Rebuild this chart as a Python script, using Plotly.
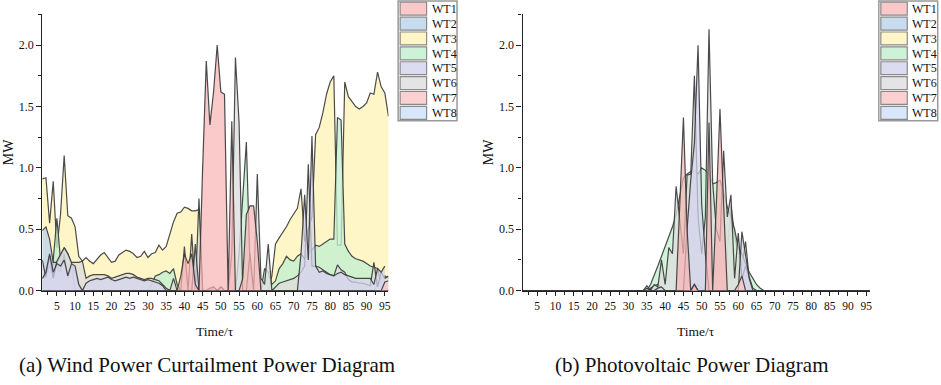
import plotly.graph_objects as go

W, H = 941, 385
T = list(range(1, 97))
NAMES = ["WT1", "WT2", "WT3", "WT4", "WT5", "WT6", "WT7", "WT8"]
X_TICKS = list(range(5, 96, 5))
Y_TICKS = [0.0, 0.5, 1.0, 1.5, 2.0]

def z(n):
    return [0.0] * n

# ---------------- Wind power curtailment (a) ----------------
WIND_WT1 = (z(37) + [0.0, 0.12, 0.30, 0.22, 0.30, 0.05, 0.0, 1.00, 1.87, 1.35, 1.62, 2.00,
                     1.62, 1.60, 0.0, 1.38, 0.0, 0.0, 0.10, 0.62, 0.69, 0.69, 0.40, 0.0] + z(35))
WIND_WT2 = [0.49, 0.52, 0.42, 0.23, 0.23, 0.28, 0.35, 0.30, 0.22, 0.15, 0.06, 0.0] + z(84)
WIND_WT3 = [0.91, 0.92, 0.55, 0.89, 0.35, 0.62, 1.10, 0.61, 0.59, 0.52, 0.28, 0.24,
            0.27, 0.24, 0.22, 0.26, 0.29, 0.31, 0.27, 0.23, 0.24, 0.29, 0.31, 0.33,
            0.32, 0.30, 0.27, 0.28, 0.32, 0.27, 0.30, 0.31, 0.37, 0.33, 0.36, 0.47,
            0.56, 0.63, 0.64, 0.68, 0.67, 0.65, 0.65, 0.66] + z(19) + [
            0.12, 0.38, 0.43, 0.47, 0.52, 0.58, 0.63, 0.67, 0.83, 0.40, 0.50, 0.60,
            1.27, 1.33, 1.45, 1.60, 1.70, 1.75, 0.37, 0.37, 1.70, 1.58, 1.54, 1.50,
            1.48, 1.50, 1.53, 1.61, 1.60, 1.78, 1.66, 1.61, 1.42]
WIND_WT4 = ([0.0, 0.0, 0.0, 0.25, 0.59, 0.25] + z(24) +
            [0.05, 0.12, 0.13, 0.15, 0.16, 0.14, 0.18, 0.05] + z(16) +
            [0.30, 0.75, 1.21, 0.20, 0.0, 0.0, 0.0, 0.18, 0.15, 0.05, 0.08, 0.18,
             0.22, 0.28, 0.25, 0.24, 0.28, 0.30, 0.26, 0.30, 0.33, 0.37, 0.36, 0.38,
             0.40, 0.42, 0.42, 1.41, 1.39, 0.38, 0.32, 0.28, 0.26, 0.25, 0.24, 0.22,
             0.20, 0.19, 0.18, 0.05, 0.0, 0.0])
WIND_WT5 = ([0.10, 0.15, 0.30, 0.15, 0.22, 0.20, 0.25, 0.12, 0.22, 0.20, 0.05, 0.0,
             0.06, 0.08, 0.09, 0.10, 0.09, 0.10, 0.11, 0.09, 0.08, 0.09, 0.10, 0.11,
             0.10, 0.11, 0.10, 0.09, 0.08, 0.09, 0.08, 0.07, 0.06, 0.04, 0.0] + z(7) +
            [0.38, 0.0, 0.0, 0.0, 0.02, 0.03, 0.0, 0.03] + z(21) +
            [0.30, 0.78, 0.25, 1.26, 0.20, 0.15, 0.16, 0.14, 0.13, 0.12, 0.14, 0.15,
             0.13, 0.12, 0.11, 0.10, 0.10, 0.10, 0.10, 0.10, 0.05, 0.18, 0.15, 0.20])
WIND_WT6 = [0.10, 0.12, 0.28, 0.10, 0.24, 0.30, 0.35, 0.30, 0.23, 0.23, 0.23, 0.24,
            0.10, 0.12, 0.13, 0.13, 0.13, 0.13, 0.12, 0.10, 0.11, 0.12, 0.13, 0.14,
            0.14, 0.13, 0.11, 0.10, 0.09, 0.10, 0.10, 0.09, 0.08, 0.05, 0.02, 0.0,
            0.10, 0.0, 0.0, 0.36, 0.0, 0.46, 0.0, 0.75, 0.0, 0.0, 0.0, 0.03,
            0.0, 0.03, 0.0, 0.0, 0.30, 1.90, 1.37, 0.0, 0.0, 0.30, 0.0, 0.95,
            0.10, 0.05, 0.38, 0.0, 0.03, 0.06, 0.07, 0.08, 0.09, 0.10, 0.12, 0.15,
            0.20, 1.03, 0.20, 0.20, 0.19, 0.17, 0.15, 0.13, 0.12, 0.21, 0.17, 0.15,
            0.09, 0.07, 0.07, 0.06, 0.06, 0.05, 0.04, 0.23, 0.03, 0.15, 0.10, 0.12]
WIND_WT7 = z(93) + [0.0, 0.07, 0.08]
WIND_WT8 = [0.25, 0.10, 0.20, 0.12, 0.20, 0.15, 0.30, 0.10, 0.20, 0.0] + z(82) + [0.05, 0.10, 0.12, 0.10]

# ---------------- Photovoltaic (b) ----------------
PV_WT1 = z(43) + [0.70, 1.41, 0.50, 0.0, 0.05, 0.0, 0.0, 0.0, 1.37, 0.0, 0.70, 1.48, 0.70, 0.0] + z(39)
PV_WT2 = z(47) + [0.02, 0.05, 0.02] + z(46)
PV_WT3 = z(56) + [0.30, 0.70, 0.45, 0.30, 0.20, 0.40, 0.10, 0.0] + z(32)
PV_WT4 = (z(35) + [0.05, 0.12, 0.20, 0.28, 0.36, 0.44, 0.52, 0.62, 0.78, 0.92, 0.95,
                   0.97, 0.98, 0.95, 1.00, 0.98, 0.95, 0.87, 0.88, 0.90, 0.80, 0.68, 0.60,
                   0.50, 0.35, 0.30, 0.22, 0.15, 0.10, 0.05, 0.02] + z(30))
PV_WT5 = (z(34) + [0.02, 0.0, 0.0, 0.02, 0.03, 0.0] + z(5) +
          [0.50, 0.90, 1.20, 2.00, 0.70, 0.30, 0.0] + z(8) + [0.48, 0.30, 0.10, 0.0] + z(31))
PV_WT6 = (z(33) + [0.0, 0.04, 0.0, 0.05, 0.03, 0.25, 0.05, 0.35, 0.30, 0.85, 0.60, 0.30,
                   0.94, 0.95, 1.75, 0.60, 0.30, 0.60, 2.13, 0.88, 0.50, 0.40, 1.14, 0.60,
                   0.78, 0.10, 0.47, 0.10, 0.20, 0.10, 0.02, 0.0] + z(31))
PV_WT7 = z(47) + [0.05, 0.0] + z(10) + [0.05, 0.12, 0.0] + z(34)
PV_WT8 = z(35) + [0.02, 0.04, 0.05, 0.02] + z(57)

WIND = [WIND_WT1, WIND_WT2, WIND_WT3, WIND_WT4, WIND_WT5, WIND_WT6, WIND_WT7, WIND_WT8]
PV = [PV_WT1, PV_WT2, PV_WT3, PV_WT4, PV_WT5, PV_WT6, PV_WT7, PV_WT8]

COLORS = ["rgb(250,200,200)", "rgb(200,220,240)", "rgb(255,246,200)", "rgb(205,242,215)",
          "rgb(220,220,240)", "rgb(228,228,228)", "rgb(252,208,208)", "rgb(215,230,248)"]
FILLS = ["rgba(248,180,180,0.72)", "rgba(185,210,238,0.75)", "rgba(255,244,190,0.85)",
         "rgba(195,240,208,0.78)", "rgba(212,212,238,0.72)", "rgba(222,222,222,0.78)",
         "rgba(250,195,195,0.72)", "rgba(205,224,248,0.65)"]
DRAW_ORDER = [2, 3, 1, 7, 5, 4, 6, 0]

FONT = "Times New Roman, Liberation Serif, serif"

def px(x):
    return x / W

def py(y):
    return 1 - y / H

fig = go.Figure()
for data, xa, ya in [(WIND, "x", "y"), (PV, "x2", "y2")]:
    for i in DRAW_ORDER:
        fig.add_trace(go.Scatter(
            x=T, y=data[i], name=NAMES[i], mode="lines", fill="tozeroy",
            fillcolor=FILLS[i], line=dict(color="rgba(55,55,55,0.9)", width=1.2),
            xaxis=xa, yaxis=ya, showlegend=False, hoverinfo="x+y+name"))

ydom = [py(296), py(14.75)]
xcommon = dict(range=[1, 96], tickmode="array", tickvals=X_TICKS, ticktext=[str(v) for v in X_TICKS],
               ticks="outside", ticklen=4, tickwidth=1, tickcolor="#222", showline=True,
               linecolor="#222", linewidth=1.2, showgrid=False, zeroline=False,
               tickfont=dict(family=FONT, size=11.5, color="#111"),
               minor=dict(tickmode="linear", tick0=2.5, dtick=5, ticks="outside", ticklen=3,
                          tickcolor="#222", showgrid=False))
ycommon = dict(range=[0, 2.25], tickmode="array", tickvals=Y_TICKS,
               ticktext=[f"{v:.1f}" for v in Y_TICKS],
               ticks="outside", ticklen=5, tickwidth=1, tickcolor="#222", showline=True,
               linecolor="#222", linewidth=1.2, showgrid=False, zeroline=False,
               tickfont=dict(family=FONT, size=12, color="#111"),
               minor=dict(tickmode="linear", tick0=0.25, dtick=0.5, ticks="outside", ticklen=3,
                          tickcolor="#222", showgrid=False))

fig.update_layout(
    width=W, height=H, autosize=False, margin=dict(l=0, r=0, t=0, b=0),
    paper_bgcolor="white", plot_bgcolor="white",
    xaxis=dict(domain=[px(42.4), px(389.3)], anchor="y", **xcommon),
    yaxis=dict(domain=ydom, anchor="x", **ycommon),
    xaxis2=dict(domain=[px(523.7), px(871.7)], anchor="y2", **xcommon),
    yaxis2=dict(domain=ydom, anchor="x2", **ycommon),
)

shapes = []
annotations = []
for lx in [399, 880.7]:
    shapes.append(dict(type="rect", xref="paper", yref="paper", x0=px(lx), x1=px(lx + 59),
                       y0=py(123), y1=py(1), line=dict(color="#999", width=1.5),
                       fillcolor="white", layer="above"))
    for i, name in enumerate(NAMES):
        top = 2.3 + i * 15.15
        shapes.append(dict(type="rect", xref="paper", yref="paper", x0=px(lx + 2), x1=px(lx + 28.5),
                           y0=py(top + 13.2), y1=py(top), line=dict(color="#8a8a8a", width=1.2),
                           fillcolor=COLORS[i], layer="above"))
        annotations.append(dict(text=name, xref="paper", yref="paper", x=px(lx + 31.5),
                                y=py(top + 6.8), xanchor="left", yanchor="middle", showarrow=False,
                                font=dict(family=FONT, size=12, color="#111")))

for cx, cy, txt, size, ang in [
    (8, 155, "MW", 14, -90), (489, 155, "MW", 14, -90),
    (215, 338, "Time/τ", 13.5, 0), (697, 338, "Time/τ", 13.5, 0),
    (207, 372, "(a) Wind Power Curtailment Power Diagram", 21, 0),
    (693, 372, "(b) Photovoltaic Power Diagram", 21, 0),
]:
    annotations.append(dict(text=txt, xref="paper", yref="paper", x=px(cx), y=py(cy),
                            xanchor="center", yanchor="middle", showarrow=False, textangle=ang,
                            font=dict(family=FONT, size=size, color="#111")))

fig.update_layout(shapes=shapes, annotations=annotations)
fig.write_html("out.html", config={"displayModeBar": False},
               post_script="document.body.style.margin='0px';document.body.style.overflow='hidden';")
